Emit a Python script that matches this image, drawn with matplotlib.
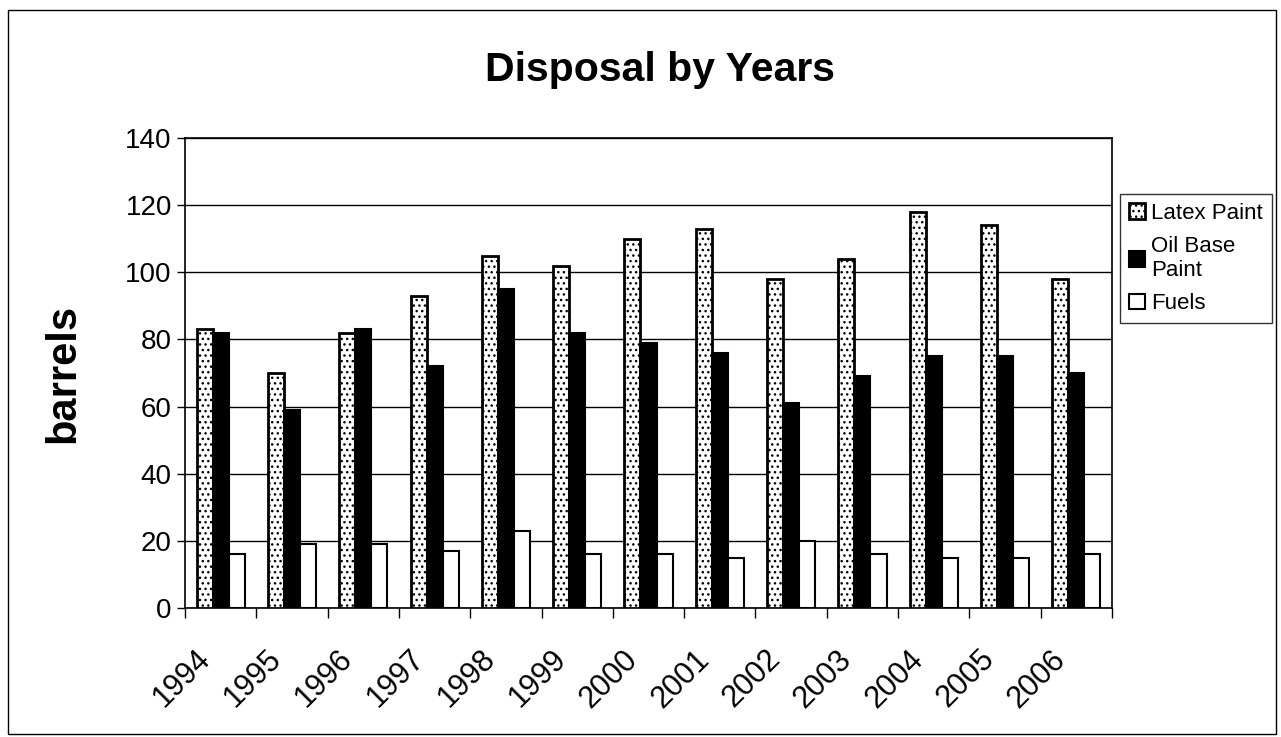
import numpy as np
import matplotlib.pyplot as plt
from matplotlib.patches import Rectangle

plt.rcParams['font.family'] = ['Liberation Sans', 'DejaVu Sans']
plt.rcParams['hatch.linewidth'] = 1.0

# Data
years = ['1994', '1995', '1996', '1997', '1998', '1999', '2000',
         '2001', '2002', '2003', '2004', '2005', '2006']
latex = [83, 70, 82, 93, 105, 102, 110, 113, 98, 104, 118, 114, 98]
oil = [82, 59, 83, 72, 95, 82, 79, 76, 61, 69, 75, 75, 70]
fuels = [16, 19, 19, 17, 23, 16, 16, 15, 20, 16, 15, 15, 16]

fig = plt.figure(figsize=(12.81, 7.37), dpi=100)
ax = fig.add_axes([0.1444, 0.175, 0.7237, 0.6377])

x = np.arange(len(years))
w = 0.225
ax.bar(x - w, latex, w, facecolor='white', edgecolor='black', linewidth=2,
       hatch='...', label='Latex Paint', zorder=3)
ax.bar(x, oil, w, facecolor='black', edgecolor='black', linewidth=1.5,
       label='Oil Base\nPaint', zorder=3)
ax.bar(x + w, fuels, w, facecolor='white', edgecolor='black', linewidth=1.5,
       label='Fuels', zorder=3)

ax.set_xlim(-0.5, len(years) - 0.5)
ax.set_ylim(0, 140)
ax.set_yticks(np.arange(0, 141, 20))
ax.yaxis.grid(True, color='black', linewidth=1)
ax.set_axisbelow(True)

# rotated labels end a little left of the category centre
ax.set_xticks(x - 0.36)
ax.set_xticklabels(years, rotation=45, ha='right', rotation_mode='anchor',
                   fontsize=22)
ax.set_xticks(np.arange(-0.5, len(years)), minor=True)
ax.tick_params(axis='x', which='major', length=0, pad=26)
ax.tick_params(axis='x', which='minor', length=7, width=1, direction='out')
ax.tick_params(axis='y', labelsize=20, length=6, width=1, direction='out')

for s in ax.spines.values():
    s.set_linewidth(1.2)

ax.set_ylabel('barrels', fontsize=30, fontweight='bold', labelpad=30)
fig.text(0.515, 0.905, 'Disposal by Years', fontsize=29.5, fontweight='bold',
         ha='center', va='center')

leg = fig.legend(loc='upper left', bbox_to_anchor=(0.8745, 0.737),
                 fontsize=16, frameon=True, fancybox=False, edgecolor='black',
                 handlelength=0.7, handleheight=0.7, handletextpad=0.3,
                 labelspacing=0.55, borderpad=0.4, borderaxespad=0)
leg.get_frame().set_linewidth(1)

# outer chart frame
fig.patches.append(Rectangle((0.006, 0.004), 0.99, 0.982, transform=fig.transFigure,
                             fill=False, edgecolor='black', linewidth=1))

fig.savefig('out.png', dpi=100)
